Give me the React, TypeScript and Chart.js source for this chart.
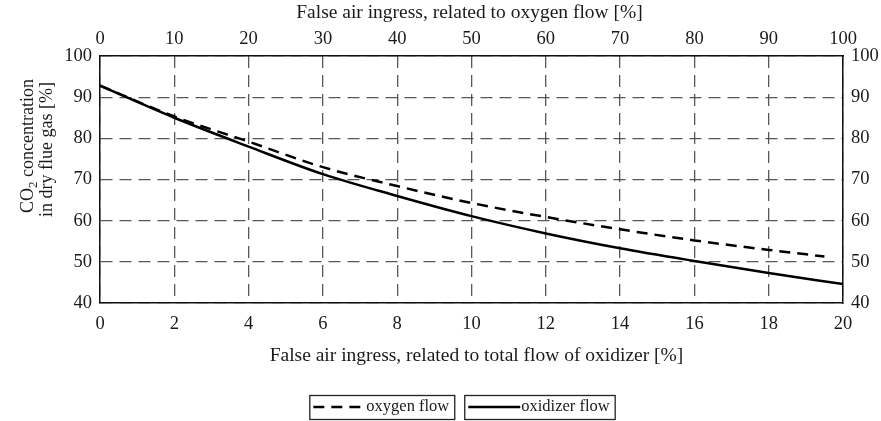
import { useEffect, useRef } from "react";
import { Chart, registerables } from "chart.js";

Chart.register(...registerables);

// False air ingress related to total oxidizer flow [%] (bottom axis)
const oxidizerIngress = [0, 2, 4, 6, 8, 10, 12, 14, 16, 18, 20];
const oxidizerCO2 = [92.8, 85.0, 78.0, 71.3, 66.0, 61.1, 56.9, 53.3, 50.2, 47.3, 44.6];

// Oxygen-flow related curve, drawn on the same bottom scale
const oxygenIngress = [0, 2, 4, 6, 8, 10, 12, 14, 16, 18, 19.5];
const oxygenCO2 = [92.8, 85.3, 79.2, 73.0, 68.4, 64.3, 60.9, 57.9, 55.2, 52.9, 51.3];

// Axis ranges and tick steps
const bottomRange = [0, 20];
const bottomStep = 2;
const topRange = [0, 100];
const topStep = 10;
const co2Range = [40, 100];
const co2Step = 10;

const seriesLabels = ["oxygen flow", "oxidizer flow"];

const topTitle = "False air ingress, related to oxygen flow [%]";
const bottomTitle = "False air ingress, related to total flow of oxidizer [%]";

const FONT = "'Liberation Serif', 'Times New Roman', serif";
const TEXT = "#1a1a1a";
const GRID = "rgba(70,70,70,0.9)";

const textPlugin = {
  id: "figureText",
  afterDraw(chart: any) {
    const { ctx, chartArea } = chart;
    const cx = (chartArea.left + chartArea.right) / 2;
    ctx.save();
    ctx.fillStyle = TEXT;
    ctx.textBaseline = "alphabetic";

    // axis titles
    ctx.font = `19.5px ${FONT}`;
    ctx.textAlign = "center";
    ctx.fillText(topTitle, cx - 2, 18);
    ctx.fillText(bottomTitle, cx + 5, 361);

    // vertical title, two lines, with subscript
    ctx.save();
    ctx.translate(33, 213);
    ctx.rotate(-Math.PI / 2);
    ctx.textAlign = "left";
    ctx.font = `18px ${FONT}`;
    ctx.fillText("CO", 0, 0);
    let w = ctx.measureText("CO").width;
    ctx.font = `13px ${FONT}`;
    ctx.fillText("2", w, 4);
    w += ctx.measureText("2").width;
    ctx.font = `18px ${FONT}`;
    ctx.fillText(" concentration", w, 0);
    ctx.restore();

    ctx.save();
    ctx.translate(52, 217);
    ctx.rotate(-Math.PI / 2);
    ctx.textAlign = "left";
    ctx.font = `18px ${FONT}`;
    ctx.fillText("in dry flue gas [%]", 0, 0);
    ctx.restore();

    // legend: one framed box per series
    ctx.font = `16.5px ${FONT}`;
    const sample = 52;
    const pad = 4;
    const gap = 10;
    const widths = chart.data.datasets.map(
      (_: any, i: number) => pad + sample + ctx.measureText(seriesLabels[i]).width + pad + 2
    );
    const total = widths.reduce((a: number, b: number) => a + b, 0) + gap * (widths.length - 1);
    let x = 462 - total / 2;
    const top = 395;
    const h = 24;
    chart.data.datasets.forEach((ds: any, i: number) => {
      ctx.lineWidth = 1.3;
      ctx.strokeStyle = "#222";
      ctx.setLineDash([]);
      ctx.strokeRect(x + 0.5, top + 0.5, widths[i], h);
      ctx.lineWidth = 2.4;
      ctx.strokeStyle = "#000";
      ctx.setLineDash(ds.borderDash || []);
      ctx.beginPath();
      ctx.moveTo(x + pad, top + 12);
      ctx.lineTo(x + pad + sample, top + 12);
      ctx.stroke();
      ctx.setLineDash([]);
      ctx.textAlign = "left";
      ctx.fillText(seriesLabels[i], x + pad + sample + 1, 411);
      x += widths[i] + gap;
    });
    ctx.restore();
  },
};

export default function App() {
  const ref = useRef<HTMLCanvasElement | null>(null);

  useEffect(() => {
    document.body.style.margin = "0";
    const canvas = ref.current;
    if (!canvas) return;

    const tickFont = { family: FONT, size: 18.5 };
    const border = { display: true, color: "#111", width: 1.5 };

    const chart = new Chart(canvas, {
      type: "line",
      data: {
        datasets: [
          {
            label: seriesLabels[0],
            data: oxygenIngress.map((x, i) => ({ x, y: oxygenCO2[i] })),
            borderColor: "#000",
            borderWidth: 2.5,
            borderDash: [11, 7],
            pointRadius: 0,
            cubicInterpolationMode: "monotone",
            xAxisID: "x",
            yAxisID: "y",
          },
          {
            label: seriesLabels[1],
            data: oxidizerIngress.map((x, i) => ({ x, y: oxidizerCO2[i] })),
            borderColor: "#000",
            borderWidth: 2.5,
            pointRadius: 0,
            cubicInterpolationMode: "monotone",
            xAxisID: "x",
            yAxisID: "y",
          },
        ],
      },
      options: {
        responsive: true,
        maintainAspectRatio: false,
        animation: false,
        layout: { padding: 0 },
        plugins: {
          legend: { display: false },
          tooltip: { enabled: false },
        },
        scales: {
          x: {
            type: "linear",
            position: "bottom",
            min: bottomRange[0],
            max: bottomRange[1],
            ticks: { stepSize: bottomStep, font: tickFont, color: TEXT, padding: 10, maxRotation: 0 },
            grid: { color: GRID, lineWidth: 1.3, drawTicks: false },
            border: { ...border, dash: [12, 7] },
            afterFit: (s: any) => {
              s.height = 118;
            },
          },
          x2: {
            type: "linear",
            position: "top",
            min: topRange[0],
            max: topRange[1],
            ticks: { stepSize: topStep, font: tickFont, color: TEXT, padding: 6, maxRotation: 0 },
            grid: { display: false, drawTicks: false },
            border,
            afterFit: (s: any) => {
              s.height = 56;
            },
          },
          y: {
            type: "linear",
            position: "left",
            min: co2Range[0],
            max: co2Range[1],
            ticks: { stepSize: co2Step, font: tickFont, color: TEXT, padding: 8 },
            grid: { color: GRID, lineWidth: 1.3, drawTicks: false },
            border: { ...border, dash: [12, 7] },
            afterFit: (s: any) => {
              s.width = 100;
            },
          },
          y2: {
            type: "linear",
            position: "right",
            min: co2Range[0],
            max: co2Range[1],
            ticks: { stepSize: co2Step, font: tickFont, color: TEXT, padding: 8 },
            grid: { display: false, drawTicks: false },
            border,
            afterFit: (s: any) => {
              s.width = 38;
            },
          },
        },
      },
      plugins: [textPlugin],
    });

    return () => chart.destroy();
  }, []);

  return (
    <div style={{ width: 881, height: 421, position: "relative", background: "#fff" }}>
      <canvas ref={ref} />
    </div>
  );
}
